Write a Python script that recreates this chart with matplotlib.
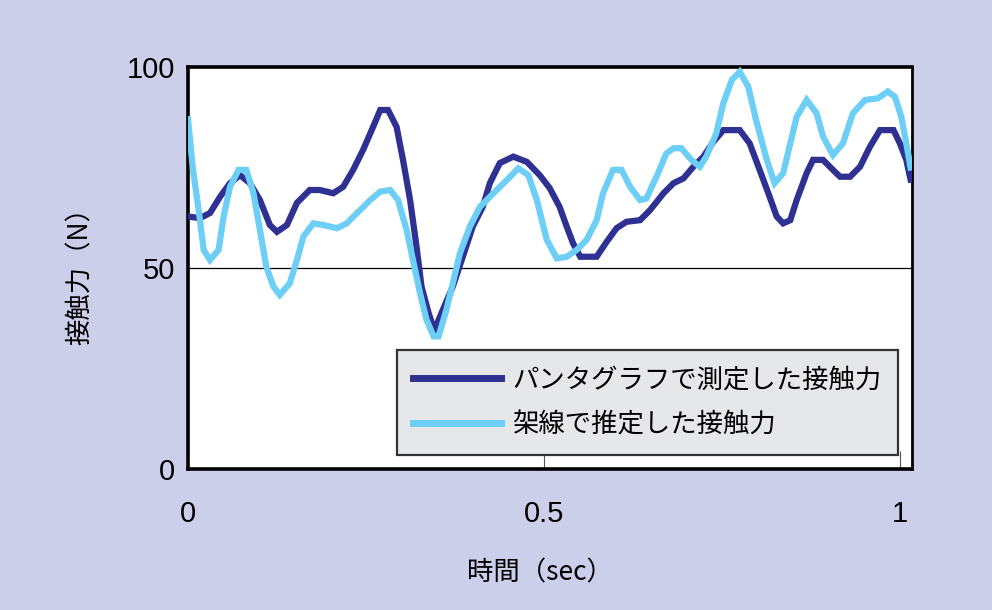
import matplotlib
matplotlib.use("Agg")
import matplotlib.pyplot as plt

# ---- data ----
t_measured = [0.000, 0.017, 0.031, 0.045, 0.059, 0.073, 0.087, 0.101, 0.115, 0.125,
              0.139, 0.153, 0.171, 0.185, 0.204, 0.218, 0.232, 0.246, 0.260, 0.270,
              0.281, 0.293, 0.302, 0.312, 0.321, 0.328, 0.338, 0.346, 0.358, 0.372,
              0.386, 0.400, 0.414, 0.424, 0.438, 0.457, 0.476, 0.494, 0.508, 0.522,
              0.532, 0.541, 0.551, 0.574, 0.588, 0.602, 0.616, 0.635, 0.649, 0.668,
              0.682, 0.696, 0.710, 0.724, 0.738, 0.752, 0.775, 0.789, 0.803, 0.817,
              0.827, 0.836, 0.846, 0.855, 0.869, 0.878, 0.892, 0.906, 0.916, 0.930,
              0.944, 0.958, 0.972, 0.991, 1.000, 1.009, 1.015]
f_measured = [62.8, 62.4, 63.7, 67.7, 71.1, 73.1, 71.1, 66.9, 60.7, 59.0,
              60.7, 66.2, 69.4, 69.4, 68.6, 70.2, 74.4, 79.4, 85.1, 89.3,
              89.3, 85.1, 76.9, 66.9, 55.3, 45.4, 38.8, 34.5, 39.6, 45.4,
              52.8, 60.3, 65.2, 71.1, 76.1, 77.7, 76.4, 73.1, 69.9, 65.2,
              60.3, 56.1, 52.8, 52.8, 56.5, 59.9, 61.5, 61.9, 64.4, 68.6,
              71.1, 72.3, 75.2, 77.7, 81.4, 84.3, 84.3, 81.0, 74.4, 67.7,
              62.8, 61.1, 61.9, 66.9, 73.6, 76.9, 76.9, 74.4, 72.7, 72.7,
              75.2, 80.2, 84.3, 84.3, 81.0, 76.9, 72.0]

t_estimated = [0.000, 0.007, 0.015, 0.022, 0.031, 0.043, 0.050, 0.059, 0.071, 0.082,
               0.092, 0.101, 0.110, 0.120, 0.129, 0.143, 0.153, 0.162, 0.176, 0.190,
               0.209, 0.223, 0.237, 0.256, 0.270, 0.284, 0.295, 0.307, 0.316, 0.326,
               0.335, 0.345, 0.352, 0.363, 0.373, 0.382, 0.396, 0.410, 0.429, 0.448,
               0.464, 0.478, 0.490, 0.504, 0.518, 0.532, 0.546, 0.560, 0.574, 0.583,
               0.597, 0.609, 0.621, 0.635, 0.644, 0.658, 0.672, 0.682, 0.693, 0.707,
               0.719, 0.728, 0.742, 0.752, 0.764, 0.775, 0.787, 0.798, 0.813, 0.824,
               0.836, 0.846, 0.855, 0.869, 0.883, 0.892, 0.906, 0.920, 0.934, 0.951,
               0.969, 0.983, 0.993, 1.002, 1.009, 1.015]
f_estimated = [87.0, 74.4, 64.4, 54.5, 52.0, 54.5, 62.8, 70.2, 74.4, 74.4,
               68.6, 59.5, 50.3, 45.4, 43.3, 46.2, 52.0, 57.8, 61.1, 60.7,
               59.9, 61.1, 63.6, 66.9, 69.0, 69.4, 66.9, 59.5, 52.0, 43.7,
               37.1, 33.0, 33.0, 39.6, 47.0, 53.7, 60.3, 65.2, 68.6, 71.9,
               74.8, 73.1, 66.9, 57.0, 52.4, 52.8, 54.5, 57.0, 61.9, 68.6,
               74.4, 74.4, 70.2, 66.9, 67.3, 72.7, 78.5, 79.8, 79.8, 76.9,
               75.2, 77.7, 83.5, 91.0, 96.8, 98.8, 95.1, 86.8, 76.9, 71.1,
               73.6, 81.0, 87.6, 91.8, 88.5, 82.7, 78.1, 81.0, 88.5, 91.8,
               92.2, 93.9, 92.6, 87.6, 81.0, 75.0]

label_measured = "パンタグラフで測定した接触力"
label_estimated = "架線で推定した接触力"
x_ticks = [0, 0.5, 1]
x_ticklabels = ["0", "0.5", "1"]
y_ticks = [0, 50, 100]
y_ticklabels = ["0", "50", "100"]
x_label = "時間（sec）"
y_label = "接触力（N）"

# ---- styling ----
BG = "#CBCFEA"
DARK = "#2E3192"
LIGHT = "#6DCFF6"
JP = ["Noto Sans CJK JP", "DejaVu Sans"]
NUM = ["Liberation Sans", "DejaVu Sans"]

fig = plt.figure(figsize=(9.92, 6.10), dpi=100, facecolor=BG)
ax = fig.add_axes([188/992, 1 - 469/610, (912-188)/992, (469-67)/610])
ax.set_facecolor("white")

ax.plot(t_measured, f_measured, color=DARK, lw=4.5, label=label_measured,
        solid_joinstyle="miter", zorder=3)
ax.plot(t_estimated, f_estimated, color=LIGHT, lw=4.5, label=label_estimated,
        solid_joinstyle="miter", zorder=4)

ax.set_xlim(0, 1.017)
ax.set_ylim(0, 100)
ax.set_xticks(x_ticks)
ax.set_xticklabels(x_ticklabels, fontsize=21, family=NUM)
ax.set_yticks(y_ticks)
ax.set_yticklabels(y_ticklabels, fontsize=21, family=NUM)
ax.tick_params(axis="x", direction="in", length=13, width=0.8, color="#555555", pad=22)
ax.tick_params(axis="y", length=0, pad=9)
ax.yaxis.grid(True, color="black", lw=0.9)
ax.set_axisbelow(True)

for side in ["left", "bottom", "top"]:
    ax.spines[side].set_linewidth(2.6)
    ax.spines[side].set_color("black")
ax.spines["right"].set_linewidth(2.0)
ax.spines["right"].set_color("black")

fig.text(540/992, 1 - 573/610, x_label, ha="center", va="center", fontsize=19, family=JP)
fig.text(80/992, 1 - 270/610, y_label, ha="center", va="center", fontsize=19,
         family=JP, rotation=90)

leg = ax.legend(loc="lower right", bbox_to_anchor=(898/992, 1 - 455/610),
                bbox_transform=fig.transFigure, borderaxespad=0,
                prop={"family": JP, "size": 19}, frameon=True, fancybox=False,
                facecolor="#E6E7E9", edgecolor="#333333", framealpha=1,
                handlelength=3.3, handletextpad=0.45, labelspacing=0.68,
                borderpad=0.62)
leg.get_frame().set_linewidth(1.6)
for line in leg.get_lines():
    line.set_linewidth(5)

fig.savefig("out.png", dpi=100, facecolor=BG)
